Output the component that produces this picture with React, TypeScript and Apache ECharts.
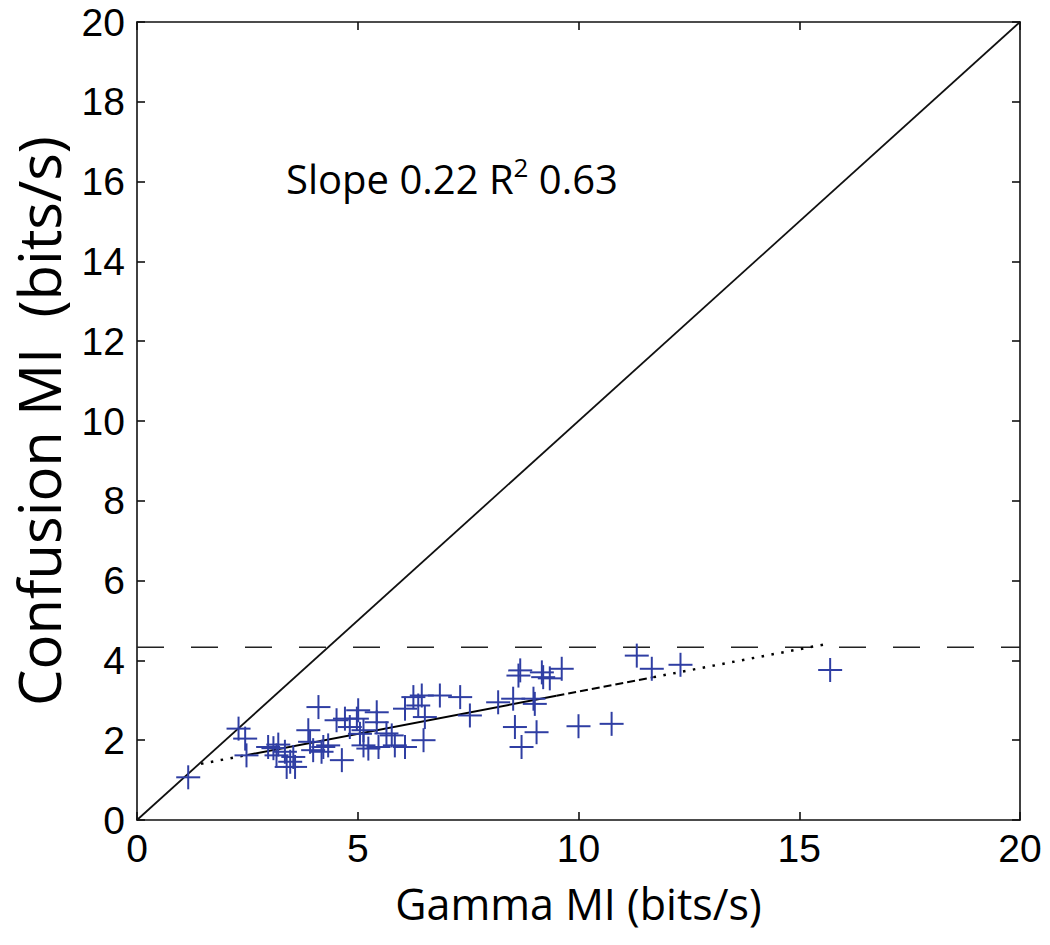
import React, { useEffect, useRef } from "react";
import * as echarts from "echarts";

// Scatter data: Gamma MI (x) vs Confusion MI (y), bits/s
const gammaMI = [
  1.16, 2.30, 2.45, 2.48, 2.97, 3.20, 3.16, 3.35, 3.47, 3.58,
  3.54, 3.88, 3.92, 4.11, 3.99, 4.18, 4.33, 4.64, 4.71, 4.82,
  4.98, 5.05, 5.13, 5.24, 5.43, 5.47, 5.43, 5.77, 5.84, 6.07,
  5.01, 6.26, 6.45, 6.37, 6.52, 6.07, 6.49, 6.86, 7.32, 7.54,
  8.18, 8.52, 8.56, 8.64, 8.71, 8.98, 9.05, 9.20, 9.17, 9.62,
  9.35, 9.01, 10.0, 10.75, 11.32, 11.66, 8.68, 12.31, 15.70, 4.52,
  3.09, 3.39, 4.22, 5.65, 5.13,
];
const confusionMI = [
  1.07, 2.29, 2.04, 1.62, 1.83, 1.89, 1.62, 1.71, 1.46, 1.33,
  1.58, 2.25, 1.96, 2.83, 1.75, 1.71, 1.87, 1.50, 2.54, 2.33,
  2.54, 2.16, 1.87, 1.79, 2.45, 1.83, 2.70, 2.12, 1.87, 2.79,
  2.75, 3.08, 3.12, 2.87, 2.58, 1.83, 2.00, 3.12, 3.08, 2.62,
  2.95, 3.04, 2.33, 3.62, 1.83, 3.04, 2.20, 3.58, 3.70, 3.79,
  3.55, 2.91, 2.35, 2.41, 4.12, 3.79, 3.75, 3.89, 3.76, 2.50,
  1.80, 1.33, 1.83, 2.17, 2.25,
];

// Reference lines
const unityLine = [[0, 0], [20, 20]];
const ceilingLevel = 4.33;
const fitIntercept = 1.1;
const fitSlope = 0.212;
const fitBreaks = [1.45, 2.5, 9.5, 11.7, 15.6];
const fitStyles = ["dotted", "solid", "dashed", "dotted"];

// Axis ticks
const xMin = 0, xMax = 20, xStep = 5;
const yMin = 0, yMax = 20, yStep = 2;

const annotation = { slope: "0.22", r2: "0.63" };

const FONT = "'Open Sans', 'Noto Sans', sans-serif";
const TICK_FONT = "'Liberation Sans', Arial, sans-serif";
const BLUE = "#2f3ea3";

export default function App() {
  const ref = useRef<HTMLDivElement>(null);

  useEffect(() => {
    document.body.style.margin = "0";
    const chart = echarts.init(ref.current!, null, { renderer: "svg" });

    const points = gammaMI.map((x, i) => [x, confusionMI[i]]);

    const fitSeries = fitStyles.map((st, i) => {
      const x0 = fitBreaks[i];
      const x1 = fitBreaks[i + 1];
      let type: any = "solid";
      let width = 2;
      if (st === "dotted") { type = [2.5, 7.5]; width = 2.5; }
      if (st === "dashed") { type = [8, 4]; width = 2; }
      return {
        type: "line",
        data: [[x0, fitIntercept + fitSlope * x0], [x1, fitIntercept + fitSlope * x1]],
        symbol: "none",
        silent: true,
        z: 4,
        lineStyle: { color: "#000", width, type },
      };
    });

    const axisCommon = {
      axisLine: { show: true, onZero: false, lineStyle: { color: "#111", width: 1.6 } },
      axisTick: { show: true, inside: true, length: 8, lineStyle: { color: "#111", width: 1.6 } },
      splitLine: { show: false },
    };

    chart.setOption({
      animation: false,
      backgroundColor: "#fff",
      grid: { left: 137, right: 30, top: 22, bottom: 125 },
      xAxis: [
        {
          type: "value", min: xMin, max: xMax, interval: xStep,
          ...axisCommon,
          axisLabel: { color: "#000", fontSize: 39, lineHeight: 34, fontFamily: TICK_FONT, margin: 11 },
          name: "Gamma MI (bits/s)",
          nameLocation: "middle",
          nameGap: 62,
          nameTextStyle: { color: "#000", fontSize: 43, fontFamily: FONT },
        },
        {
          type: "value", min: xMin, max: xMax, interval: xStep, position: "top",
          ...axisCommon,
          axisLabel: { show: false },
        },
      ],
      yAxis: [
        {
          type: "value", min: yMin, max: yMax, interval: yStep,
          ...axisCommon,
          axisLabel: { color: "#000", fontSize: 39, lineHeight: 32, fontFamily: TICK_FONT, margin: 12 },
          name: "Confusion MI  (bits/s)",
          nameLocation: "middle",
          nameGap: 70,
          nameTextStyle: { color: "#000", fontSize: 58, fontFamily: FONT },
        },
        {
          type: "value", min: yMin, max: yMax, interval: yStep, position: "right",
          ...axisCommon,
          axisLabel: { show: false },
        },
      ],
      series: [
        {
          type: "line",
          data: unityLine,
          symbol: "none",
          silent: true,
          lineStyle: { color: "#111", width: 1.8 },
          z: 3,
        },
        {
          type: "line",
          data: [[xMin, ceilingLevel], [xMax, ceilingLevel]],
          symbol: "none",
          silent: true,
          lineStyle: { color: "#222", width: 1.5, type: [27, 27] },
          z: 3,
        },
        {
          type: "custom",
          data: points,
          z: 5,
          renderItem: (params: any, api: any) => {
            const p = api.coord([api.value(0), api.value(1)]);
            const s = 12;
            return {
              type: "group",
              children: [
                { type: "line", shape: { x1: p[0] - s, y1: p[1], x2: p[0] + s, y2: p[1] }, style: { stroke: BLUE, lineWidth: 2 } },
                { type: "line", shape: { x1: p[0], y1: p[1] - s, x2: p[0], y2: p[1] + s }, style: { stroke: BLUE, lineWidth: 2 } },
              ],
            };
          },
        },
        ...fitSeries,
      ],
      graphic: [
        {
          type: "text",
          left: 286,
          top: 154,
          style: {
            text: `{a|Slope ${annotation.slope} R}{s|2}{a| ${annotation.r2}}`,
            rich: {
              a: { fontSize: 40, fontFamily: FONT, color: "#000" },
              s: { fontSize: 26, fontFamily: FONT, color: "#000", padding: [0, 0, 22, 0] },
            },
          },
        },
      ],
    });

    return () => chart.dispose();
  }, []);

  return <div ref={ref} style={{ width: 1050, height: 945 }} />;
}
